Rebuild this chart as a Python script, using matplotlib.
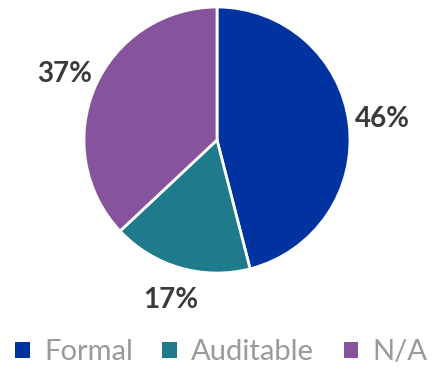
import matplotlib.pyplot as plt
from matplotlib.patches import Patch

labels = ["Formal", "Auditable", "N/A"]
shares = [46, 17, 37]
colors = ["#0033a0", "#1f7a8c", "#86539c"]

plt.rcParams['font.family'] = ['Lato', 'DejaVu Sans']

fig = plt.figure(figsize=(4.34, 3.67), dpi=100)
ax = fig.add_axes([0.1935, 0.256, 0.613, 0.725])

wedges, _, pcts = ax.pie(shares, colors=colors, startangle=90, counterclock=False,
                         autopct="%d%%", pctdistance=1.25,
                         wedgeprops=dict(edgecolor="white", linewidth=2))
for t in pcts:
    t.set_fontsize(20)
    t.set_color("#3a3a3a")
    t.set_fontweight("bold")
ax.set_aspect("equal")
ax.set_xlim(-1, 1)
ax.set_ylim(-1, 1)

handles = [Patch(facecolor=c, edgecolor="none") for c in colors]
fig.legend(handles, labels, loc="center", bbox_to_anchor=(0.51, 0.04), ncol=3,
           frameon=False, handlelength=0.5, handleheight=0.5,
           handletextpad=0.5, columnspacing=1.0, labelcolor="#9a9a9a",
           prop={'weight': 'normal', 'size': 21})

fig.savefig("out.png", dpi=100)
